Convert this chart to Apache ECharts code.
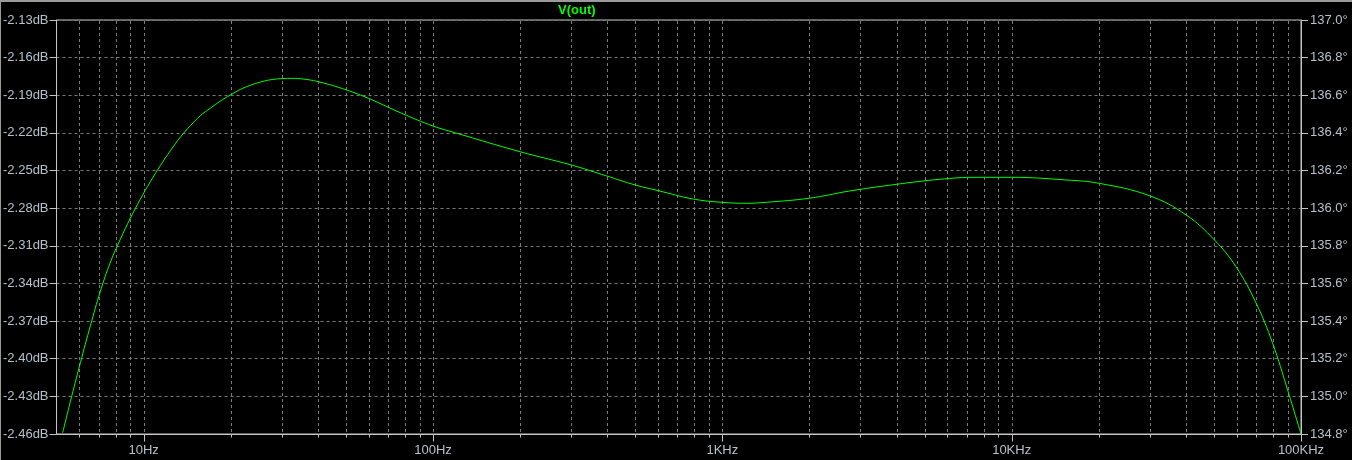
<!DOCTYPE html>
<html>
<head>
<meta charset="utf-8">
<script src="https://cdn.jsdelivr.net/npm/echarts@6/dist/echarts.min.js"></script>
<style>
html,body{margin:0;padding:0;background:#000;}
#chart{width:1352px;height:460px;}
</style>
</head>
<body>
<div id="chart"></div>
<script>
// ---- data ----
const freqHz = [5.25, 5.58, 6.045, 6.547, 7.087, 7.675, 8.311, 8.996, 9.741, 10.547, 11.42, 12.367, 13.39, 14.5, 15.7, 17.0, 18.4, 19.93, 21.58, 23.36, 25.29, 27.38, 29.65, 32.1, 34.76, 40.2, 50.3, 59.8, 78, 100, 119, 200, 301, 398, 500, 600, 793, 993, 1211, 1421, 2006, 2754, 3990, 5636, 7550, 10000, 15400, 20100, 29900, 40100, 50200, 59600, 70000, 79800, 89900, 97900, 100000];
const magDb = [-2.459, -2.4343, -2.4032, -2.3737, -2.3462, -2.323, -2.3047, -2.288, -2.2728, -2.2589, -2.2461, -2.2342, -2.2234, -2.2143, -2.2063, -2.2003, -2.1947, -2.1898, -2.1854, -2.1821, -2.1795, -2.1777, -2.1768, -2.1765, -2.1768, -2.1792, -2.1858, -2.1924, -2.2044, -2.2145, -2.2198, -2.235, -2.2456, -2.2543, -2.2615, -2.266, -2.2727, -2.2753, -2.2761, -2.2753, -2.272, -2.2663, -2.261, -2.257, -2.2554, -2.2554, -2.2575, -2.2602, -2.270, -2.2854, -2.3053, -2.3266, -2.3558, -2.3877, -2.4249, -2.453, -2.46];

// axis ticks / labels
const xTickValues = [10, 100, 1000, 10000, 100000];
const xTickLabels = ['10Hz', '100Hz', '1KHz', '10KHz', '100KHz'];
const xGridFreqs = [6, 7, 8, 9, 10, 20, 30, 40, 50, 60, 70, 80, 90, 100, 200, 300, 400, 500, 600, 700, 800, 900, 1000, 2000, 3000, 4000, 5000, 6000, 7000, 8000, 9000, 10000, 20000, 30000, 40000, 50000, 60000, 70000, 80000, 90000, 100000];
const xMin = 5, xMax = 100000;
const dbMin = -2.46, dbMax = -2.13, dbStep = 0.03;
const phMin = 134.8, phMax = 137.0, phStep = 0.2;
const traceName = 'V(out)';

const labelColor = '#b4c0cc';
const frameColor = '#c4c4c4';
const gridColor = '#7a7a7a';
const font = '"Liberation Sans", Arial, sans-serif';

const chart = echarts.init(document.getElementById('chart'), null, {renderer: 'canvas'});

function isDecade(f) {
  return xTickValues.some(t => Math.abs(Math.log10(f) - Math.log10(t)) < 1e-6);
}

const option = {
  backgroundColor: '#000000',
  animation: false,
  title: {
    text: traceName,
    left: 553,
    top: -1,
    textStyle: {color: '#00ff00', fontSize: 13, fontWeight: 'bold', fontFamily: font}
  },
  graphic: [
    {type: 'rect', shape: {x: 0, y: 0, width: 1352, height: 2}, style: {fill: '#9a9a9a'}, silent: true},
    {type: 'rect', shape: {x: 0, y: 0, width: 1, height: 460}, style: {fill: '#9a9a9a'}, silent: true}
  ],
  grid: {
    left: 55, right: 51, top: 20, bottom: 26,
    show: true, borderColor: frameColor, borderWidth: 1, backgroundColor: 'transparent'
  },
  xAxis: {
    type: 'log',
    logBase: 10,
    min: xMin,
    max: xMax,
    axisLine: {show: true, lineStyle: {color: frameColor}},
    axisTick: {show: false},
    splitLine: {show: false},
    minorTick: {show: false},
    axisLabel: {
      color: labelColor, fontSize: 13, fontFamily: font, margin: 10,
      showMinLabel: true, showMaxLabel: true,
      formatter: function (v) {
        for (let i = 0; i < xTickValues.length; i++) {
          if (Math.abs(Math.log10(v) - Math.log10(xTickValues[i])) < 1e-6) return xTickLabels[i];
        }
        return '';
      }
    }
  },
  yAxis: [
    {
      type: 'value',
      min: dbMin, max: dbMax, interval: dbStep,
      position: 'left',
      axisLine: {show: true, lineStyle: {color: frameColor}},
      axisTick: {show: true, inside: false, length: 7, lineStyle: {color: frameColor}},
      splitLine: {show: true, lineStyle: {color: gridColor, type: [3, 3], width: 1}},
      axisLabel: {
        color: labelColor, fontSize: 13, fontFamily: font, margin: 8,
        formatter: v => v.toFixed(2) + 'dB'
      }
    },
    {
      type: 'value',
      min: phMin, max: phMax, interval: phStep,
      position: 'right',
      axisLine: {show: true, lineStyle: {color: frameColor}},
      axisTick: {show: true, inside: false, length: 7, lineStyle: {color: frameColor}},
      splitLine: {show: false},
      axisLabel: {
        color: labelColor, fontSize: 13, fontFamily: font, margin: 9,
        formatter: v => v.toFixed(1) + '\u00b0'
      }
    }
  ],
  series: [
    {
      type: 'custom',
      name: 'xgrid',
      xAxisIndex: 0,
      yAxisIndex: 0,
      silent: true,
      clip: false,
      z: 1,
      data: xGridFreqs.map(f => [f]),
      renderItem: function (params, api) {
        const f = api.value(0);
        const pTop = api.coord([f, dbMax]);
        const pBot = api.coord([f, dbMin]);
        const x = Math.round(pTop[0]) + 0.5;
        const yT = Math.round(pTop[1]);
        const yB = Math.round(pBot[1]) + 0.5;
        const children = [];
        if (f < xMax) {
          children.push({
            type: 'line',
            shape: {x1: x, y1: yT + 1, x2: x, y2: yB - 0.5},
            style: {stroke: gridColor, lineWidth: 1, lineDash: [3, 3]}
          });
        }
        children.push({
          type: 'line',
          shape: {x1: x, y1: yB, x2: x, y2: yB + (isDecade(f) ? 7 : 3)},
          style: {stroke: frameColor, lineWidth: 1}
        });
        return {type: 'group', children: children};
      }
    },
    {
      type: 'line',
      name: traceName,
      xAxisIndex: 0,
      yAxisIndex: 0,
      data: freqHz.map((f, i) => [f, magDb[i]]),
      showSymbol: false,
      smooth: 0.4,
      z: 5,
      lineStyle: {color: '#00ff00', width: 1},
      itemStyle: {color: '#00ff00'}
    }
  ]
};

chart.setOption(option);
</script>
</body>
</html>
